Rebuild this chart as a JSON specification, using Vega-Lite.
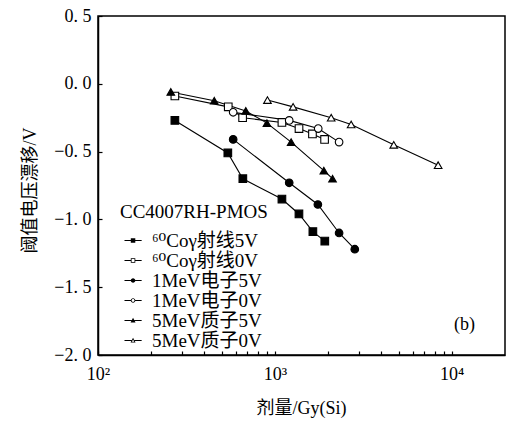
{
  "$schema": "https://vega.github.io/schema/vega-lite/v6.json",
  "width": 407,
  "height": 339,
  "autosize": "none",
  "padding": {"left": 98, "top": 16, "right": 20, "bottom": 70},
  "background": "white",
  "datasets": {
    "points": [
      {"series": "⁶⁰Coγ射线5V", "dose": 272, "shift": -0.27},
      {"series": "⁶⁰Coγ射线5V", "dose": 542, "shift": -0.51},
      {"series": "⁶⁰Coγ射线5V", "dose": 659, "shift": -0.70},
      {"series": "⁶⁰Coγ射线5V", "dose": 1096, "shift": -0.85},
      {"series": "⁶⁰Coγ射线5V", "dose": 1368, "shift": -0.96},
      {"series": "⁶⁰Coγ射线5V", "dose": 1640, "shift": -1.09},
      {"series": "⁶⁰Coγ射线5V", "dose": 1915, "shift": -1.16},
      {"series": "⁶⁰Coγ射线0V", "dose": 272, "shift": -0.09},
      {"series": "⁶⁰Coγ射线0V", "dose": 545, "shift": -0.17},
      {"series": "⁶⁰Coγ射线0V", "dose": 657, "shift": -0.25},
      {"series": "⁶⁰Coγ射线0V", "dose": 1096, "shift": -0.285},
      {"series": "⁶⁰Coγ射线0V", "dose": 1369, "shift": -0.33},
      {"series": "⁶⁰Coγ射线0V", "dose": 1631, "shift": -0.37},
      {"series": "⁶⁰Coγ射线0V", "dose": 1910, "shift": -0.41},
      {"series": "1MeV电子5V", "dose": 581, "shift": -0.41},
      {"series": "1MeV电子5V", "dose": 1205, "shift": -0.73},
      {"series": "1MeV电子5V", "dose": 1750, "shift": -0.89},
      {"series": "1MeV电子5V", "dose": 2307, "shift": -1.10},
      {"series": "1MeV电子5V", "dose": 2830, "shift": -1.22},
      {"series": "1MeV电子0V", "dose": 581, "shift": -0.21},
      {"series": "1MeV电子0V", "dose": 1205, "shift": -0.27},
      {"series": "1MeV电子0V", "dose": 1758, "shift": -0.33},
      {"series": "1MeV电子0V", "dose": 2307, "shift": -0.43},
      {"series": "5MeV质子5V", "dose": 258, "shift": -0.06},
      {"series": "5MeV质子5V", "dose": 454, "shift": -0.125},
      {"series": "5MeV质子5V", "dose": 685, "shift": -0.20},
      {"series": "5MeV质子5V", "dose": 902, "shift": -0.29},
      {"series": "5MeV质子5V", "dose": 1236, "shift": -0.43},
      {"series": "5MeV质子5V", "dose": 1892, "shift": -0.64},
      {"series": "5MeV质子5V", "dose": 2118, "shift": -0.70},
      {"series": "5MeV质子0V", "dose": 908, "shift": -0.12},
      {"series": "5MeV质子0V", "dose": 1268, "shift": -0.17},
      {"series": "5MeV质子0V", "dose": 2081, "shift": -0.25},
      {"series": "5MeV质子0V", "dose": 2698, "shift": -0.30},
      {"series": "5MeV质子0V", "dose": 4700, "shift": -0.45},
      {"series": "5MeV质子0V", "dose": 8377, "shift": -0.60}
    ],
    "notes": [
      {"label": "(b)", "dose": 11800, "shift": -1.78}
    ]
  },
  "layer": [
    {
      "data": {"name": "points"},
      "mark": {"type": "line", "color": "black", "strokeWidth": 1.1},
      "encoding": {
        "x": {
          "field": "dose", "type": "quantitative",
          "scale": {"type": "log", "domain": [100, 20000], "nice": false},
          "axis": {
            "title": "剂量/Gy(Si)",
            "values": [100, 200, 300, 400, 500, 600, 700, 800, 900, 1000, 2000, 3000, 4000, 5000, 6000, 7000, 8000, 9000, 10000],
            "labelExpr": "datum.value == 100 ? '10²' : datum.value == 1000 ? '10³' : datum.value == 10000 ? '10⁴' : ''",
            "tickSize": -4,
            "labelPadding": 14,
            "labelFlush": false,
            "labelOverlap": false,
            "titleX": 203,
            "titleY": 53,
            "titleBaseline": "middle"
          }
        },
        "y": {
          "field": "shift", "type": "quantitative",
          "scale": {"domain": [-2, 0.5], "nice": false, "zero": false},
          "axis": {
            "title": "阈值电压漂移/V",
            "values": [-2, -1.75, -1.5, -1.25, -1, -0.75, -0.5, -0.25, 0, 0.25, 0.5],
            "labelExpr": "datum.value * 2 == round(datum.value * 2) ? replace(format(datum.value, '.1f'), '.', '. ') : ''",
            "tickSize": -4,
            "labelPadding": 11,
            "labelFlush": false,
            "labelOverlap": false,
            "titleX": -68,
            "titleY": 174,
            "titleBaseline": "middle",
            "titleAngle": -90
          }
        },
        "detail": {"field": "series", "type": "nominal"}
      }
    },
    {
      "data": {"name": "points"},
      "mark": {"type": "point", "filled": true, "stroke": "black", "strokeWidth": 1.1, "opacity": 1, "size": 58},
      "encoding": {
        "x": {"field": "dose", "type": "quantitative"},
        "y": {"field": "shift", "type": "quantitative"},
        "shape": {
          "field": "series", "type": "nominal",
          "scale": {
            "domain": ["⁶⁰Coγ射线5V", "⁶⁰Coγ射线0V", "1MeV电子5V", "1MeV电子0V", "5MeV质子5V", "5MeV质子0V"],
            "range": ["square", "square", "circle", "circle", "triangle-up", "triangle-up"]
          },
          "legend": null
        },
        "fill": {
          "field": "series", "type": "nominal",
          "scale": {
            "domain": ["⁶⁰Coγ射线5V", "⁶⁰Coγ射线0V", "1MeV电子5V", "1MeV电子0V", "5MeV质子5V", "5MeV质子0V"],
            "range": ["black", "white", "black", "white", "black", "white"]
          },
          "legend": null
        }
      }
    },
    {
      "data": {"name": "points"},
      "mark": {"type": "point", "filled": true, "color": "black", "fill": "black", "strokeWidth": 0, "opacity": 0, "size": 196},
      "encoding": {
        "x": {"field": "dose", "type": "quantitative"},
        "y": {"field": "shift", "type": "quantitative"},
        "shape": {
          "field": "series", "type": "nominal",
          "scale": {
            "domain": ["⁶⁰Coγ射线5V", "⁶⁰Coγ射线0V", "1MeV电子5V", "1MeV电子0V", "5MeV质子5V", "5MeV质子0V"],
            "range": [
              "M-1,-0.08L0.27,-0.08L0.27,0.08L-1,0.08ZM1.15,-0.08L2.43,-0.08L2.43,0.08L1.15,0.08ZM0.26,-0.45L1.16,-0.45L1.16,0.45L0.26,0.45Z",
              "M-1,-0.08L0.27,-0.08L0.27,0.08L-1,0.08ZM1.15,-0.08L2.43,-0.08L2.43,0.08L1.15,0.08ZM0.26,-0.45L1.16,-0.45L1.16,0.45L0.26,0.45ZM0.42,-0.29L0.42,0.29L1.0,0.29L1.0,-0.29Z",
              "M-1,-0.08L0.28,-0.08L0.28,0.08L-1,0.08ZM1.14,-0.08L2.43,-0.08L2.43,0.08L1.14,0.08ZM1.16,0A0.45,0.45,0,1,1,0.26,0A0.45,0.45,0,1,1,1.16,0Z",
              "M-1,-0.08L0.28,-0.08L0.28,0.08L-1,0.08ZM1.14,-0.08L2.43,-0.08L2.43,0.08L1.14,0.08ZM1.16,0A0.45,0.45,0,1,1,0.26,0A0.45,0.45,0,1,1,1.16,0ZM1.0,0A0.29,0.29,0,1,0,0.42,0A0.29,0.29,0,1,0,1.0,0Z",
              "M-1,-0.08L0.43,-0.08L0.43,0.08L-1,0.08ZM0.99,-0.08L2.43,-0.08L2.43,0.08L0.99,0.08ZM0.71,-0.55L1.21,0.4L0.21,0.4Z",
              "M-1,-0.08L0.43,-0.08L0.43,0.08L-1,0.08ZM0.99,-0.08L2.43,-0.08L2.43,0.08L0.99,0.08ZM0.71,-0.55L1.21,0.4L0.21,0.4ZM0.71,-0.207L0.475,0.24L0.945,0.24Z"
            ]
          },
          "legend": {
            "title": "CC4007RH-PMOS",
            "orient": "none", "legendX": 22, "legendY": 187,
            "padding": 0, "titlePadding": 9, "rowPadding": 0,
            "labelOffset": 13, "symbolOpacity": 1, "symbolFillColor": "black", "symbolStrokeWidth": 0
          }
        }
      }
    },
    {
      "data": {"name": "notes"},
      "mark": {"type": "text", "font": "Liberation Serif", "fontSize": 18, "color": "black", "align": "center", "baseline": "middle"},
      "encoding": {
        "text": {"field": "label", "type": "nominal"},
        "x": {"field": "dose", "type": "quantitative"},
        "y": {"field": "shift", "type": "quantitative"}
      }
    }
  ],
  "resolve": {"scale": {"shape": "independent"}},
  "config": {
    "view": {"stroke": "black", "strokeWidth": 1.5},
    "axis": {
      "grid": false,
      "domainColor": "black", "domainWidth": 1.5,
      "tickColor": "black", "tickWidth": 1.2,
      "labelColor": "black", "labelFont": "Liberation Serif, DejaVu Serif", "labelFontSize": 18,
      "titleColor": "black", "titleFont": "Liberation Serif, Noto Sans CJK SC", "titleFontSize": 18, "titleFontWeight": "normal"
    },
    "legend": {
      "titleFont": "Liberation Serif", "titleFontSize": 19, "titleFontWeight": "normal", "titleColor": "black",
      "labelFont": "Liberation Serif, DejaVu Serif, Noto Sans CJK SC", "labelFontSize": 19, "labelColor": "black", "labelLimit": 300
    }
  }
}
